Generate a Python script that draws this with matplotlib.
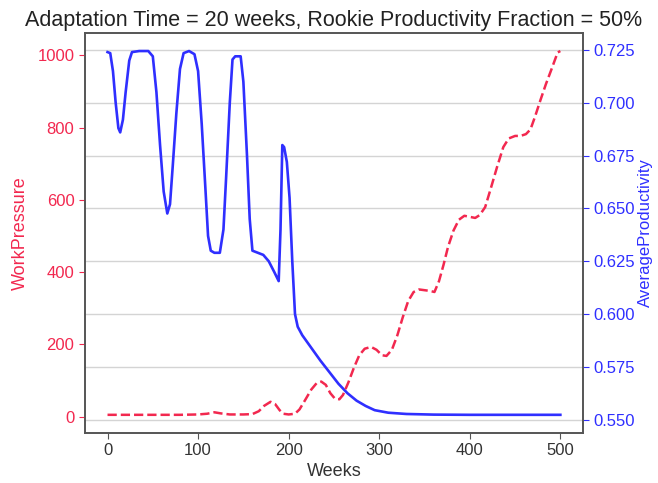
import numpy as np
import matplotlib
matplotlib.use("Agg")
import matplotlib.pyplot as plt

plt.rcParams['font.family'] = ['Liberation Sans', 'DejaVu Sans']

# average productivity over time (blue, right axis)
prod_weeks = [0, 3, 6, 9, 12, 14, 17, 20, 24, 27, 35, 45, 50, 54, 58, 62, 66, 69, 72, 76,
              80, 84, 90, 96, 100, 104, 108, 111, 114, 118, 124, 128, 131, 135, 138, 141,
              147, 150, 154, 157, 160, 166, 172, 178, 184, 189, 191, 193, 195, 198, 201,
              204, 207, 210, 215, 225, 235, 245, 255, 265, 275, 285, 295, 310, 330, 360,
              400, 450, 500]
productivity = [0.724, 0.7235, 0.715, 0.700, 0.688, 0.686, 0.692, 0.705, 0.720, 0.724,
                0.7245, 0.7245, 0.722, 0.705, 0.680, 0.658, 0.6476, 0.652, 0.670, 0.695,
                0.716, 0.7235, 0.7245, 0.723, 0.715, 0.690, 0.660, 0.637, 0.630, 0.629,
                0.629, 0.640, 0.665, 0.700, 0.7205, 0.722, 0.722, 0.710, 0.675, 0.645,
                0.630, 0.629, 0.628, 0.625, 0.620, 0.6156, 0.640, 0.680, 0.679, 0.672,
                0.655, 0.625, 0.600, 0.594, 0.590, 0.584, 0.578, 0.5725, 0.567, 0.5625,
                0.559, 0.5565, 0.5545, 0.5533, 0.5527, 0.5524, 0.5523, 0.5523, 0.5523]

# work pressure over time (red dashed, left axis)
wp_weeks = [0, 20, 40, 60, 80, 100, 110, 118, 125, 135, 150, 160, 167, 173, 180, 185, 190,
            194, 200, 207, 212, 218, 225, 231, 236, 241, 246, 251, 256, 260, 266, 272, 278,
            284, 291, 297, 303, 308, 314, 320, 326, 332, 338, 344, 350, 356, 361, 366, 371,
            376, 382, 388, 394, 400, 406, 411, 417, 423, 430, 437, 443, 450, 456, 462, 467,
            472, 478, 484, 490, 497, 500]
work_pressure = [5, 5, 5, 5, 5, 6, 8, 12, 9, 6, 6, 7, 15, 30, 41, 35, 18, 8, 6, 8, 20, 45,
                 75, 93, 97, 88, 65, 50, 48, 60, 95, 135, 170, 188, 193, 185, 170, 168, 185,
                 225, 275, 320, 345, 352, 350, 348, 345, 375, 420, 470, 515, 545, 556, 553,
                 550, 558, 580, 630, 690, 746, 770, 777, 777, 782, 795, 830, 876, 920, 960,
                 1008, 1012]

red = '#f2284f'
blue = '#2f2fff'
frame = '#555555'

fig, ax1 = plt.subplots(figsize=(6.58, 4.83), dpi=100)
fig.subplots_adjust(left=0.129, right=0.886, top=0.932, bottom=0.1035)
ax2 = ax1.twinx()

ax1.plot(wp_weeks, work_pressure, color=red, linestyle='--', linewidth=1.8, zorder=3)
ax2.plot(prod_weeks, productivity, color=blue, linewidth=1.9, zorder=3)

ax1.set_xticks([0, 100, 200, 300, 400, 500])
ax1.set_yticks([0, 200, 400, 600, 800, 1000])
ax2.set_yticks([0.550, 0.575, 0.600, 0.625, 0.650, 0.675, 0.700, 0.725])
ax2.yaxis.set_major_formatter(matplotlib.ticker.FormatStrFormatter('%.3f'))

ax2.grid(axis='y', color='#d4d4d4', linewidth=1.0)
ax2.set_axisbelow(True)
ax1.set_zorder(ax2.get_zorder() + 1)
ax1.patch.set_visible(False)

ax1.set_xlabel('Weeks', fontsize=13, color='#333333', labelpad=3)
ax1.set_ylabel('WorkPressure', fontsize=13, color=red, labelpad=6)
ax2.set_ylabel('AverageProductivity', fontsize=12, color=blue, labelpad=2)
ax1.set_title('Adaptation Time = 20 weeks, Rookie Productivity Fraction = 50%',
              fontsize=15.5, color='#222222', pad=5)

ax1.tick_params(axis='x', labelsize=12, colors=frame, labelcolor='#333333', length=4)
ax1.tick_params(axis='y', labelsize=12, colors=red, length=4)
ax2.tick_params(axis='y', labelsize=12, colors=blue, length=4)

for ax in (ax1, ax2):
    for sp in ax.spines.values():
        sp.set_color(frame)
        sp.set_linewidth(1.2)

fig.savefig('out.png', dpi=100)
